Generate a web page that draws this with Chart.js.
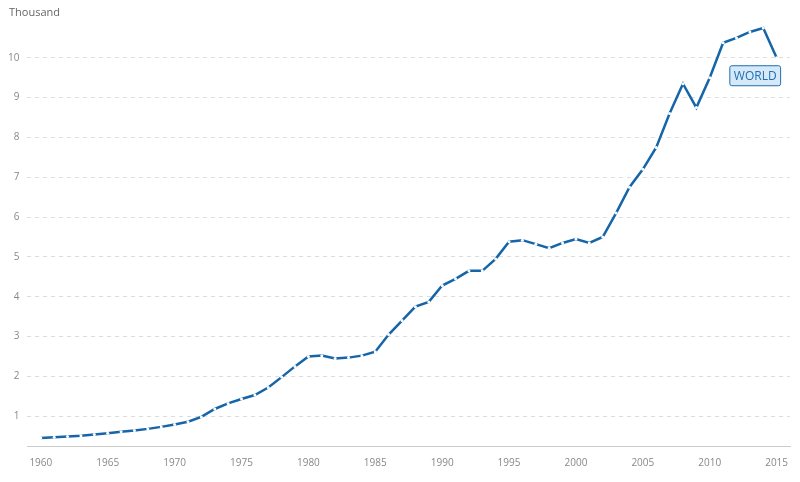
<!DOCTYPE html>
<html><head><meta charset="utf-8">
<script src="https://cdn.jsdelivr.net/npm/chart.js@4"></script>
<style>body{margin:0;background:#fff}#wrap{width:800px;height:482px}</style>
</head><body><div id="wrap"><canvas id="c"></canvas></div>
<script>
const years = [];
for (let y = 1960; y <= 2015; y++) years.push(y);
const values = [0.45,0.47,0.49,0.51,0.54,0.57,0.61,0.64,0.68,0.73,0.79,0.86,0.98,1.18,1.32,1.43,1.53,1.72,1.98,2.25,
  2.5,2.52,2.45,2.47,2.52,2.62,3.05,3.4,3.75,3.87,4.28,4.45,4.65,4.65,4.95,5.38,5.42,5.32,5.22,5.35,
  5.45,5.35,5.5,6.1,6.75,7.2,7.75,8.6,9.35,8.75,9.5,10.38,10.5,10.65,10.75,10.0];
const xTicks = [1960,1965,1970,1975,1980,1985,1990,1995,2000,2005,2010,2015];
const yTicks = [1,2,3,4,5,6,7,8,9,10];
const seriesName = 'WORLD';

const labelPlugin = {
  id: 'lbl',
  afterDatasetsDraw(chart) {
    const {ctx, scales} = chart;
    const x = scales.x.getPixelForValue(2013.4), y = scales.y.getPixelForValue(9.55);
    ctx.save();
    ctx.font = '12px "Open Sans"';
    const w = ctx.measureText(seriesName).width + 8;
    ctx.fillStyle = '#d6e9f8'; ctx.strokeStyle = '#1f6fb2'; ctx.lineWidth = 1;
    ctx.beginPath(); ctx.roundRect(x - w / 2, y - 10, w, 20, 2); ctx.fill(); ctx.stroke();
    ctx.fillStyle = '#1f6fb2'; ctx.textAlign = 'center'; ctx.textBaseline = 'middle';
    ctx.fillText(seriesName, x, y + 1);
    ctx.fillStyle = '#666'; ctx.textAlign = 'left'; ctx.textBaseline = 'top'; ctx.font = '11px "Open Sans"';
    ctx.fillText('Thousand', 9, 7);
    ctx.restore();
  }
};

new Chart(document.getElementById('c'), {
  type: 'line',
  data: { datasets: [{
    data: years.map((y, i) => ({x: y, y: values[i]})),
    borderColor: '#1565a8', borderWidth: 2.5,
    pointRadius: 1.5, pointBackgroundColor: '#fff', pointBorderColor: '#fff', pointBorderWidth: 0,
    tension: 0
  }]},
  options: {
    responsive: true, maintainAspectRatio: false, animation: false,
    layout: {padding: {top: 22, right: 10, left: 0, bottom: 10}},
    plugins: {legend: {display: false}, tooltip: {enabled: false}},
    scales: {
      x: {
        type: 'linear', min: 1959, max: 2016,
        afterBuildTicks: s => { s.ticks = xTicks.map(v => ({value: v})); },
        grid: {display: false, drawTicks: true},
        border: {color: '#ccc'},
        ticks: {color: '#888', font: {family: 'Open Sans', size: 10}, maxRotation: 0, callback: v => String(v)}
      },
      y: {
        min: 0.25, max: 10.9,
        afterBuildTicks: s => { s.ticks = yTicks.map(v => ({value: v})); },
        grid: {color: '#ddd', drawTicks: false},
        border: {display: false, dash: [4, 4]},
        ticks: {color: '#888', font: {family: 'Open Sans', size: 10}, padding: 8}
      }
    }
  },
  plugins: [labelPlugin]
});
</script></body></html>
